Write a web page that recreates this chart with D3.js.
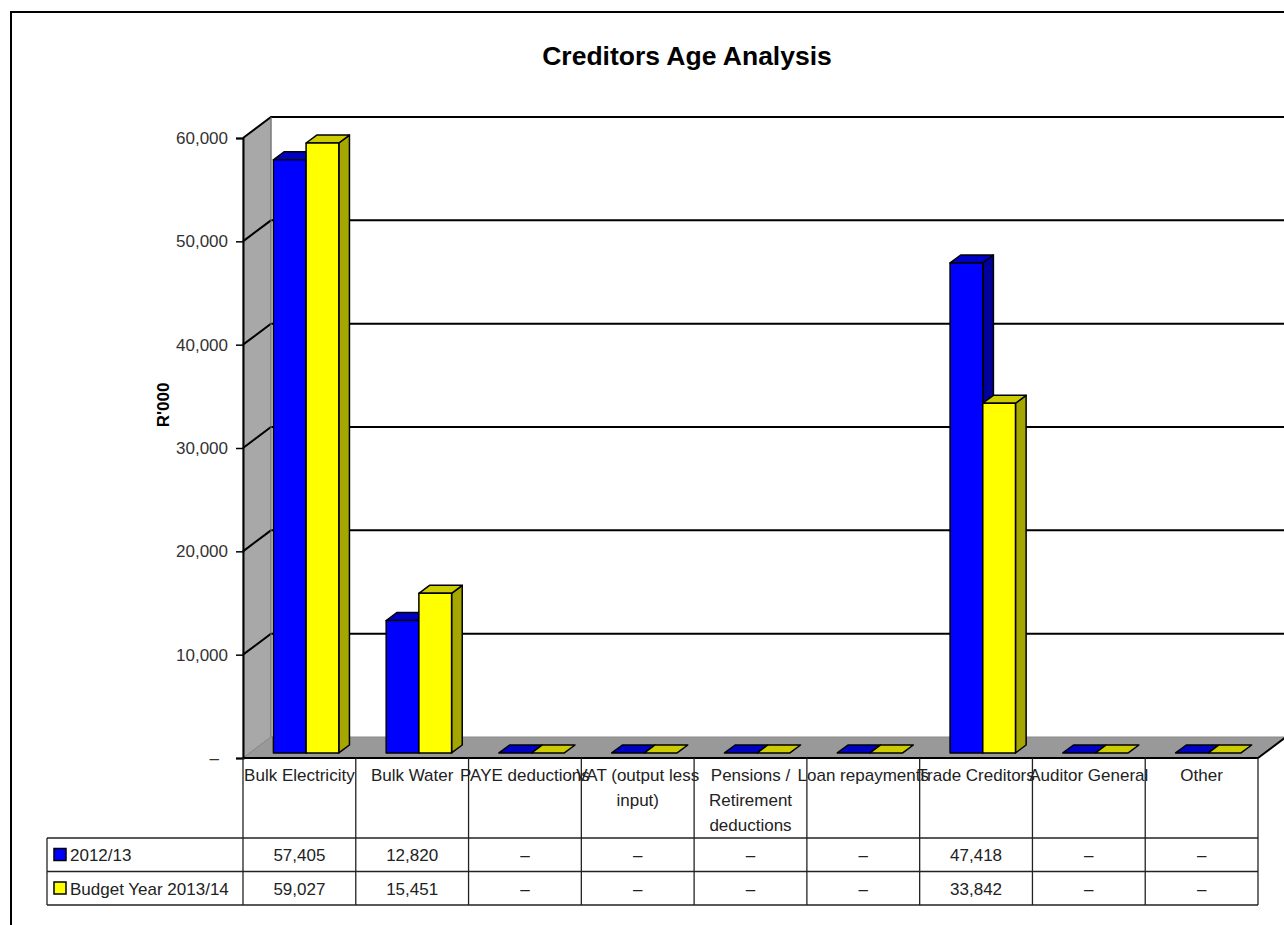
<!DOCTYPE html>
<html>
<head>
<meta charset="utf-8">
<script src="https://cdn.jsdelivr.net/npm/d3@7"></script>
<style>
  html, body { margin: 0; padding: 0; background: #fff; }
  svg { display: block; font-family: "Liberation Sans", Arial, sans-serif; }
</style>
</head>
<body>
<svg id="chart" width="1284" height="925"></svg>
<script>
// Creditor categories and the wrapped lines shown in the table header
const categories = ["Bulk Electricity", "Bulk Water", "PAYE deductions", "VAT (output less input)",
  "Pensions / Retirement deductions", "Loan repayments", "Trade Creditors", "Auditor General", "Other"];
const categoryLines = [["Bulk Electricity"], ["Bulk Water"], ["PAYE deductions"], ["VAT (output less", "input)"],
  ["Pensions /", "Retirement", "deductions"], ["Loan repayments"], ["Trade Creditors"], ["Auditor General"], ["Other"]];

// Series values (R'000)
const seriesNames = ["2012/13", "Budget Year 2013/14"];
const values2012 = [57405, 12820, 0, 0, 0, 0, 47418, 0, 0];
const valuesBudget = [59027, 15451, 0, 0, 0, 0, 33842, 0, 0];

// Value axis ticks
const yTicks = [0, 10000, 20000, 30000, 40000, 50000, 60000];

(function () {
  const svg = d3.select("#chart");
  const W = 1284, H = 925;

  // Plot geometry: front plane and depth offset of the 3D box
  const plotLeft = 243, plotRight = 1258, plotBase = 758, plotTop = 138;
  const DX = 28, DY = -21;
  const d0 = 0.24, d1 = 0.62;  // bar front/back depth fraction

  const x = d3.scaleBand().domain(categories).range([plotLeft, plotRight]);
  const y = d3.scaleLinear().domain([0, 60000]).range([plotBase, plotTop]);
  const P = (xf, v, d) => [xf + d * DX, y(v) + d * DY];
  const poly = pts => "M" + pts.map(p => p.join(",")).join("L") + "Z";

  // Outer chart border
  svg.append("path").attr("d", `M11,${H}V12H${W}`).attr("fill", "none").attr("stroke", "#000").attr("stroke-width", 2);

  // Title
  svg.append("text").attr("x", 687).attr("y", 65).attr("text-anchor", "middle")
    .attr("font-size", 26.5).attr("font-weight", "bold").attr("fill", "#000")
    .text("Creditors Age Analysis");

  // Axis title
  svg.append("text").attr("transform", "translate(169,405) rotate(-90)").attr("text-anchor", "middle")
    .attr("font-size", 17).attr("font-weight", "bold").attr("fill", "#000").text("R'000");

  // Side wall
  svg.append("path").attr("d", poly([P(plotLeft, 0, 0), P(plotLeft, 60000, 0), P(plotLeft, 60000, 1), P(plotLeft, 0, 1)]))
    .attr("fill", "#a8a8a8").attr("stroke", "#808080").attr("stroke-width", 1);

  // Floor
  svg.append("path").attr("d", poly([P(plotLeft, 0, 0), P(plotRight, 0, 0), P(plotRight, 0, 1), P(plotLeft, 0, 1)]))
    .attr("fill", "#999999").attr("stroke", "#8a8a8a").attr("stroke-width", 1);

  // Gridlines on side wall and back wall
  const gridVals = yTicks.filter(v => v > 0);
  svg.append("g").selectAll("path").data(gridVals).join("path")
    .attr("d", v => { const a = P(plotLeft, v, 0), b = P(plotLeft, v, 1); return `M${a}L${b}H${W + 10}`; })
    .attr("fill", "none").attr("stroke", "#000").attr("stroke-width", 2);

  // Floor right edge and back wall left edge
  svg.append("path").attr("d", `M${P(plotRight, 0, 0)}L${P(plotRight, 0, 1)}`)
    .attr("stroke", "#000").attr("stroke-width", 2);
  svg.append("path").attr("d", `M${P(plotLeft, 0, 1)}L${P(plotLeft, 60000, 1)}`)
    .attr("stroke", "#777").attr("stroke-width", 1);

  // Value axis on the front plane
  const yAxis = d3.axisLeft(y).tickValues(yTicks).tickSize(7).tickPadding(8)
    .tickFormat(v => v === 0 ? "–" : d3.format(",")(v));
  const ga = svg.append("g").attr("transform", `translate(${plotLeft},0)`).call(yAxis);
  ga.select(".domain").attr("stroke", "#000").attr("stroke-width", 2);
  ga.selectAll(".tick line").attr("stroke", "#000").attr("stroke-width", 1.5);
  ga.selectAll(".tick text").attr("font-size", 17).attr("fill", "#333")
    .attr("font-family", "'Liberation Sans', Arial, sans-serif");
  // the zero label carries a trailing pad in accounting format
  ga.selectAll(".tick text").filter(v => v === 0).attr("dx", -9);

  // Floor front edge
  svg.append("path").attr("d", `M${plotLeft},${plotBase}H${plotRight}`).attr("stroke", "#000").attr("stroke-width", 2);

  // 3D columns
  const seriesData = [values2012, valuesBudget];
  const colors = [
    { front: "#0000ff", top: "#0000c4", side: "#00009c" },
    { front: "#ffff00", top: "#cccc00", side: "#a6a600" }
  ];
  const bw = x.bandwidth() * 0.29;
  const bars = [];
  categories.forEach((c, i) => {
    seriesData.forEach((vals, s) => {
      const xl = x(c) + x.bandwidth() / 2 - bw + s * bw;
      bars.push({ xl, xr: xl + bw, v: vals[i], s });
    });
  });
  const gb = svg.append("g").attr("stroke", "#000").attr("stroke-width", 1.5).attr("stroke-linejoin", "round");
  bars.forEach(b => {
    const col = colors[b.s];
    if (b.v > 0) {
      gb.append("path").attr("d", poly([P(b.xr, 0, d0), P(b.xr, 0, d1), P(b.xr, b.v, d1), P(b.xr, b.v, d0)]))
        .attr("fill", col.side);
    }
    gb.append("path").attr("d", poly([P(b.xl, b.v, d0), P(b.xr, b.v, d0), P(b.xr, b.v, d1), P(b.xl, b.v, d1)]))
      .attr("fill", col.top);
    if (b.v > 0) {
      gb.append("path").attr("d", poly([P(b.xl, 0, d0), P(b.xr, 0, d0), P(b.xr, b.v, d0), P(b.xl, b.v, d0)]))
        .attr("fill", col.front);
    }
  });

  // Data table
  const rowTop = 838, rowH = 33.5, tableLeft = 47;
  const tbl = svg.append("g").attr("stroke", "#222").attr("stroke-width", 1.3);
  const colEdges = categories.map(c => x(c)).concat([plotRight]);
  tbl.selectAll("line.col").data(colEdges).join("line")
    .attr("x1", d => d).attr("x2", d => d).attr("y1", plotBase).attr("y2", rowTop + 2 * rowH);
  [0, 1, 2].forEach(r => tbl.append("line").attr("x1", tableLeft).attr("x2", plotRight)
    .attr("y1", rowTop + r * rowH).attr("y2", rowTop + r * rowH));
  tbl.append("line").attr("x1", tableLeft).attr("x2", tableLeft).attr("y1", rowTop).attr("y2", rowTop + 2 * rowH);

  // Header labels
  const hdr = svg.append("g").attr("font-size", 17).attr("fill", "#222").attr("text-anchor", "middle");
  categories.forEach((c, i) => {
    categoryLines[i].forEach((line, k) => {
      hdr.append("text").attr("x", x(c) + x.bandwidth() / 2).attr("y", 781 + k * 25).text(line);
    });
  });

  // Legend keys and values
  const fmt = v => v === 0 ? "–" : d3.format(",")(v);
  seriesData.forEach((vals, s) => {
    const yb = rowTop + s * rowH + 23;
    svg.append("rect").attr("x", 54).attr("y", rowTop + s * rowH + 10.5).attr("width", 12).attr("height", 12)
      .attr("fill", colors[s].front).attr("stroke", "#000").attr("stroke-width", 1.5);
    svg.append("text").attr("x", 70).attr("y", yb).attr("font-size", 17).attr("fill", "#222").text(seriesNames[s]);
    svg.append("g").selectAll("text").data(vals).join("text")
      .attr("x", (v, i) => x(categories[i]) + x.bandwidth() / 2).attr("y", yb)
      .attr("text-anchor", "middle").attr("font-size", 17).attr("fill", "#222").text(fmt);
  });
})();
</script>
</body>
</html>
